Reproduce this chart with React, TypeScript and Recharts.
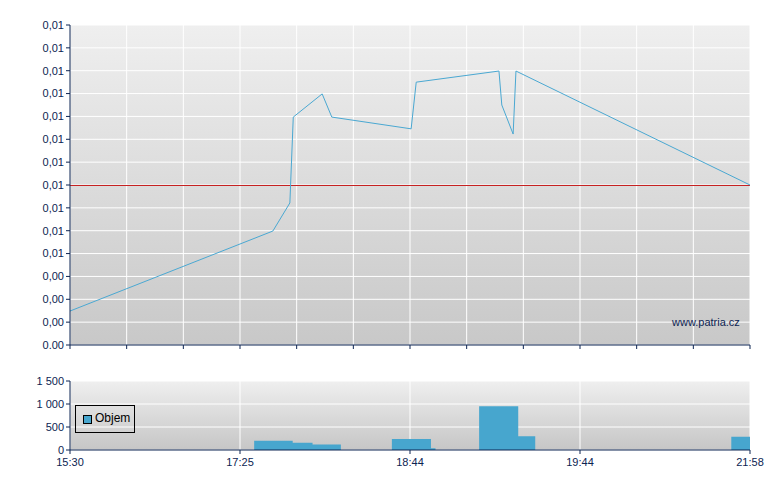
import React from 'react';
import {
  LineChart, Line, AreaChart, Area, XAxis, YAxis, CartesianGrid, ReferenceLine,
} from 'recharts';

// Price series (x = position on session axis, y = price)
const priceX = [0, 3.58, 3.88, 3.94, 4.45, 4.62, 6.02, 6.11, 7.57, 7.62, 7.82, 7.87, 12];
const priceY = [0.00354, 0.00599, 0.00685, 0.00948, 0.01019, 0.00948, 0.00912, 0.01055, 0.01089, 0.00985, 0.00896, 0.01089, 0.0074];
const refPrice = 0.0074;

// Volume series (stepped)
const volX = [0, 3.25, 3.93, 4.28, 4.78, 5.68, 6.37, 6.45, 7.22, 7.91, 8.21, 11.67, 12];
const volY = [0, 200, 160, 120, 0, 240, 40, 0, 950, 300, 0, 290, 290];

// Axes
const yTicks = [0.0025, 0.0032, 0.0039, 0.0046, 0.0053, 0.006, 0.0067, 0.0074, 0.0081, 0.0088, 0.0095, 0.0102, 0.0109, 0.0116, 0.0123];
const yTickLabels = ['0.00', '0,00', '0,00', '0,00', '0,01', '0,01', '0,01', '0,01', '0,01', '0,01', '0,01', '0,01', '0,01', '0,01', '0,01'];
const xTicksTop = [0, 1, 2, 3, 4, 5, 6, 7, 8, 9, 10, 11, 12];
const xTicksBottom = [0, 3, 6, 9, 12];
const xTickLabels = ['15:30', '17:25', '18:44', '19:44', '21:58'];
const volTicks = [0, 500, 1000, 1500];
const volTickLabels = ['0', '500', '1 000', '1 500'];

const priceData = priceX.map((x, i) => ({ x, p: priceY[i] }));
const volData = volX.map((x, i) => ({ x, v: volY[i] }));

const NAVY = '#0c2452';
const FONT = '"Liberation Sans", Arial, sans-serif';
const tickStyle = { fontFamily: FONT, fontSize: 11, fill: NAVY };

export default function App() {
  return (
    <div style={{ position: 'absolute', left: 0, top: 0, width: 780, height: 490, background: '#fff', fontFamily: FONT }}>
      <svg width={0} height={0} style={{ position: 'absolute' }}>
        <defs>
          <linearGradient id="bgTop" x1="0" y1="0" x2="0" y2="1">
            <stop offset="0%" stopColor="#efefef" />
            <stop offset="100%" stopColor="#c8c8c8" />
          </linearGradient>
          <linearGradient id="bgBottom" x1="0" y1="0" x2="0" y2="1">
            <stop offset="0%" stopColor="#efefef" />
            <stop offset="100%" stopColor="#c6c6c6" />
          </linearGradient>
        </defs>
      </svg>

      <div style={{ position: 'absolute', left: 0, top: 0 }}>
        <LineChart width={780} height={360} data={priceData} margin={{ top: 25, right: 30, bottom: 0, left: 0 }}>
          <CartesianGrid stroke="#ffffff" strokeWidth={1} fill="url(#bgTop)" fillOpacity={1} />
          <XAxis
            dataKey="x" type="number" domain={[0, 12]} ticks={xTicksTop} interval={0}
            height={15} tickSize={4} tickFormatter={() => ''}
            axisLine={{ stroke: NAVY }} tickLine={{ stroke: NAVY }} tick={tickStyle}
          />
          <YAxis
            type="number" domain={[yTicks[0], yTicks[yTicks.length - 1]]} ticks={yTicks} interval={0}
            width={70} tickSize={4} allowDataOverflow
            tickFormatter={(v: number) => yTickLabels[yTicks.indexOf(v)] ?? ''}
            axisLine={{ stroke: NAVY }} tickLine={{ stroke: NAVY }} tick={tickStyle}
          />
          <ReferenceLine y={refPrice} stroke="#c62222" strokeWidth={1} shapeRendering="crispEdges" />
          <Line dataKey="p" type="linear" stroke="#4aa8d2" strokeWidth={1} dot={false} isAnimationActive={false} />
        </LineChart>
      </div>

      <div style={{ position: 'absolute', left: 672, top: 316, fontSize: 11, color: NAVY, fontFamily: FONT, lineHeight: '13px' }}>
        www.patria.cz
      </div>

      <div style={{ position: 'absolute', left: 0, top: 360 }}>
        <AreaChart width={780} height={130} data={volData} margin={{ top: 21, right: 30, bottom: 10, left: 0 }}>
          <CartesianGrid stroke="#ffffff" strokeWidth={1} fill="url(#bgBottom)" fillOpacity={1} />
          <XAxis
            dataKey="x" type="number" domain={[0, 12]} ticks={xTicksBottom} interval={0}
            height={30} tickSize={4} tickMargin={4}
            tickFormatter={(v: number) => xTickLabels[xTicksBottom.indexOf(v)] ?? ''}
            axisLine={{ stroke: NAVY }} tickLine={{ stroke: NAVY }} tick={tickStyle}
          />
          <YAxis
            type="number" domain={[0, 1500]} ticks={volTicks} interval={0}
            width={70} tickSize={4}
            tickFormatter={(v: number) => volTickLabels[volTicks.indexOf(v)] ?? ''}
            axisLine={{ stroke: NAVY }} tickLine={{ stroke: NAVY }} tick={tickStyle}
          />
          <Area dataKey="v" type="stepAfter" stroke="none" fill="#47a6ce" fillOpacity={1} isAnimationActive={false} />
        </AreaChart>
      </div>

      <div style={{ position: 'absolute', left: 75, top: 405, width: 58, height: 26, border: '1px solid #000', boxSizing: 'content-box' }}>
        <div style={{ position: 'absolute', left: 7, top: 9, width: 7, height: 7, background: '#47a6ce', border: '1px solid #000' }} />
        <div style={{ position: 'absolute', left: 19, top: 6, fontSize: 12, color: '#000', fontFamily: FONT, lineHeight: '13px' }}>Objem</div>
      </div>
    </div>
  );
}
